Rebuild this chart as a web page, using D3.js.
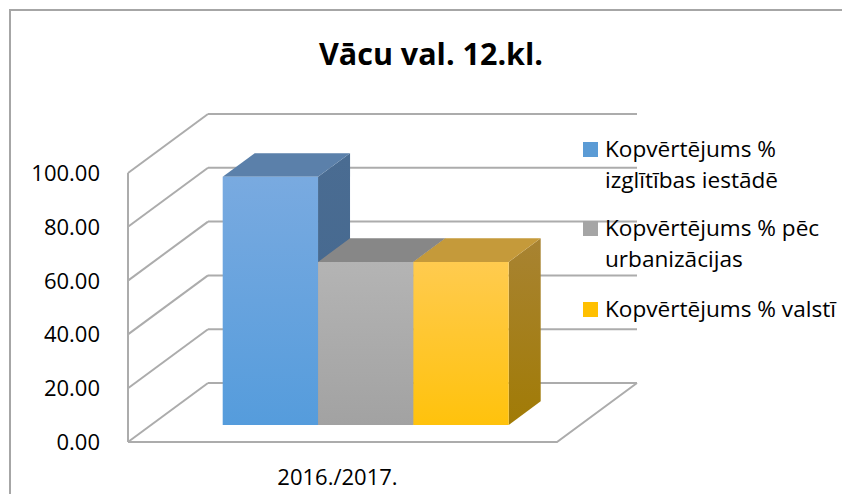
<!DOCTYPE html>
<html>
<head>
<meta charset="utf-8">
<script src="https://cdn.jsdelivr.net/npm/d3@7"></script>
<style>
  body { margin: 0; background: #fff; }
  text { font-family: "Open Sans", sans-serif; fill: #000; }
</style>
</head>
<body>
<script>
var title = "Vācu val. 12.kl.";
var categories = ["2016./2017."];
var seriesNames = ["Kopvērtējums % izglītības iestādē", "Kopvērtējums % pēc urbanizācijas", "Kopvērtējums % valstī"];
var legendLines = [["Kopvērtējums %", "izglītības iestādē"], ["Kopvērtējums % pēc", "urbanizācijas"], ["Kopvērtējums % valstī"]];
var values = [92.2, 60.6, 60.6];
var yTicks = [0, 20, 40, 60, 80, 100];

var colors = [
  {front: ["#79aae0", "#559cdc"], top: "#5b80aa", side: ["#4a6c92", "#43678e"], legend: "#5b9bd5"},
  {front: ["#b4b4b4", "#a2a2a2"], top: "#878787", side: ["#7c7c7c", "#707070"], legend: "#a5a5a5"},
  {front: ["#ffcb4f", "#ffc20c"], top: "#c59a3a", side: ["#a88332", "#a17b06"], legend: "#ffc000"}
];

var width = 842, height = 494;
var svg = d3.select("body").append("svg").attr("width", width).attr("height", height);

// outer frame
svg.append("rect").attr("x", 10).attr("y", 10).attr("width", 900).attr("height", 600)
  .attr("fill", "none").attr("stroke", "#a6a6a6").attr("stroke-width", 2);

// 3d projection: depth w in 0..1 moves by (dx, dy)
var depth = {dx: 80, dy: -59};
var y = d3.scaleLinear().domain([0, 100]).range([442, 173]);
var x = d3.scaleBand().domain(categories).range([128, 557]);
var xs = d3.scaleBand().domain(seriesNames).range([0, x.bandwidth()]).paddingInner(0).paddingOuter(0.75);
var w0 = 0.29, w1 = 0.69;

function P(px, v, w) {
  return [px + w * depth.dx, y(v) + w * depth.dy];
}
function poly(pts) { return pts.map(function(p) { return p.join(","); }).join(" "); }

var grid = svg.append("g").attr("stroke", "#acacac").attr("stroke-width", 2).attr("fill", "none");
var x0 = x.range()[0], x1 = x.range()[1];

// back wall gridlines
grid.selectAll(".back").data(yTicks).enter().append("line")
  .attr("x1", function(d) { return P(x0, d, 1)[0]; })
  .attr("y1", function(d) { return P(x0, d, 1)[1]; })
  .attr("x2", function(d) { return P(x1, d, 1)[0]; })
  .attr("y2", function(d) { return P(x1, d, 1)[1]; });

// side wall gridlines
grid.selectAll(".side").data(yTicks).enter().append("line")
  .attr("x1", function(d) { return P(x0, d, 0)[0]; })
  .attr("y1", function(d) { return P(x0, d, 0)[1]; })
  .attr("x2", function(d) { return P(x0, d, 1)[0]; })
  .attr("y2", function(d) { return P(x0, d, 1)[1]; });

// floor edges + axis line
grid.append("polyline").attr("points", poly([P(x0, 0, 0), P(x1, 0, 0), P(x1, 0, 1)]));
grid.append("line")
  .attr("x1", x0).attr("y1", y(0)).attr("x2", x0).attr("y2", y(100));

// gradients
var defs = svg.append("defs");
colors.forEach(function(c, i) {
  var g = defs.append("linearGradient").attr("id", "front" + i).attr("x1", 0).attr("y1", 0).attr("x2", 0).attr("y2", 1);
  g.append("stop").attr("offset", "0%").attr("stop-color", c.front[0]);
  g.append("stop").attr("offset", "100%").attr("stop-color", c.front[1]);
  var s = defs.append("linearGradient").attr("id", "side" + i).attr("x1", 0).attr("y1", 0).attr("x2", 0).attr("y2", 1);
  s.append("stop").attr("offset", "0%").attr("stop-color", c.side[0]);
  s.append("stop").attr("offset", "100%").attr("stop-color", c.side[1]);
});

// bars
var bars = svg.append("g");
categories.forEach(function(cat) {
  seriesNames.forEach(function(name, i) {
    var v = values[i];
    var l = x(cat) + xs(name), r = l + xs.bandwidth();
    var g = bars.append("g");
    g.append("polygon").attr("fill", "url(#side" + i + ")")
      .attr("points", poly([P(r, 0, w0), P(r, 0, w1), P(r, v, w1), P(r, v, w0)]));
    g.append("polygon").attr("fill", colors[i].top)
      .attr("points", poly([P(l, v, w0), P(l, v, w1), P(r, v, w1), P(r, v, w0)]));
    g.append("polygon").attr("fill", "url(#front" + i + ")")
      .attr("points", poly([P(l, 0, w0), P(r, 0, w0), P(r, v, w0), P(l, v, w0)]));
  });
});

// y tick labels
svg.append("g").selectAll("text").data(yTicks).enter().append("text")
  .attr("x", 100).attr("y", function(d) { return y(d) + 8; })
  .attr("text-anchor", "end").attr("font-size", 22)
  .text(function(d) { return d.toFixed(2); });

// category label
svg.append("g").selectAll("text").data(categories).enter().append("text")
  .attr("x", function(d) { return x(d) + x.bandwidth() / 2 - 5; })
  .attr("y", 485).attr("text-anchor", "middle").attr("font-size", 22)
  .text(function(d) { return d; });

// title
svg.append("text").attr("x", 431).attr("y", 65).attr("text-anchor", "middle")
  .attr("font-size", 30.5).attr("font-weight", "bold").text(title);

// legend
var legendTop = [157, 236, 317];
var legend = svg.append("g");
seriesNames.forEach(function(name, i) {
  var lg = legend.append("g");
  lg.append("rect").attr("x", 583).attr("y", legendTop[i] - 15).attr("width", 15).attr("height", 15)
    .attr("fill", colors[i].legend);
  legendLines[i].forEach(function(t, j) {
    lg.append("text").attr("x", 605).attr("y", legendTop[i] + j * 31)
      .attr("font-size", 22.6).text(t);
  });
});
</script>
</body>
</html>
